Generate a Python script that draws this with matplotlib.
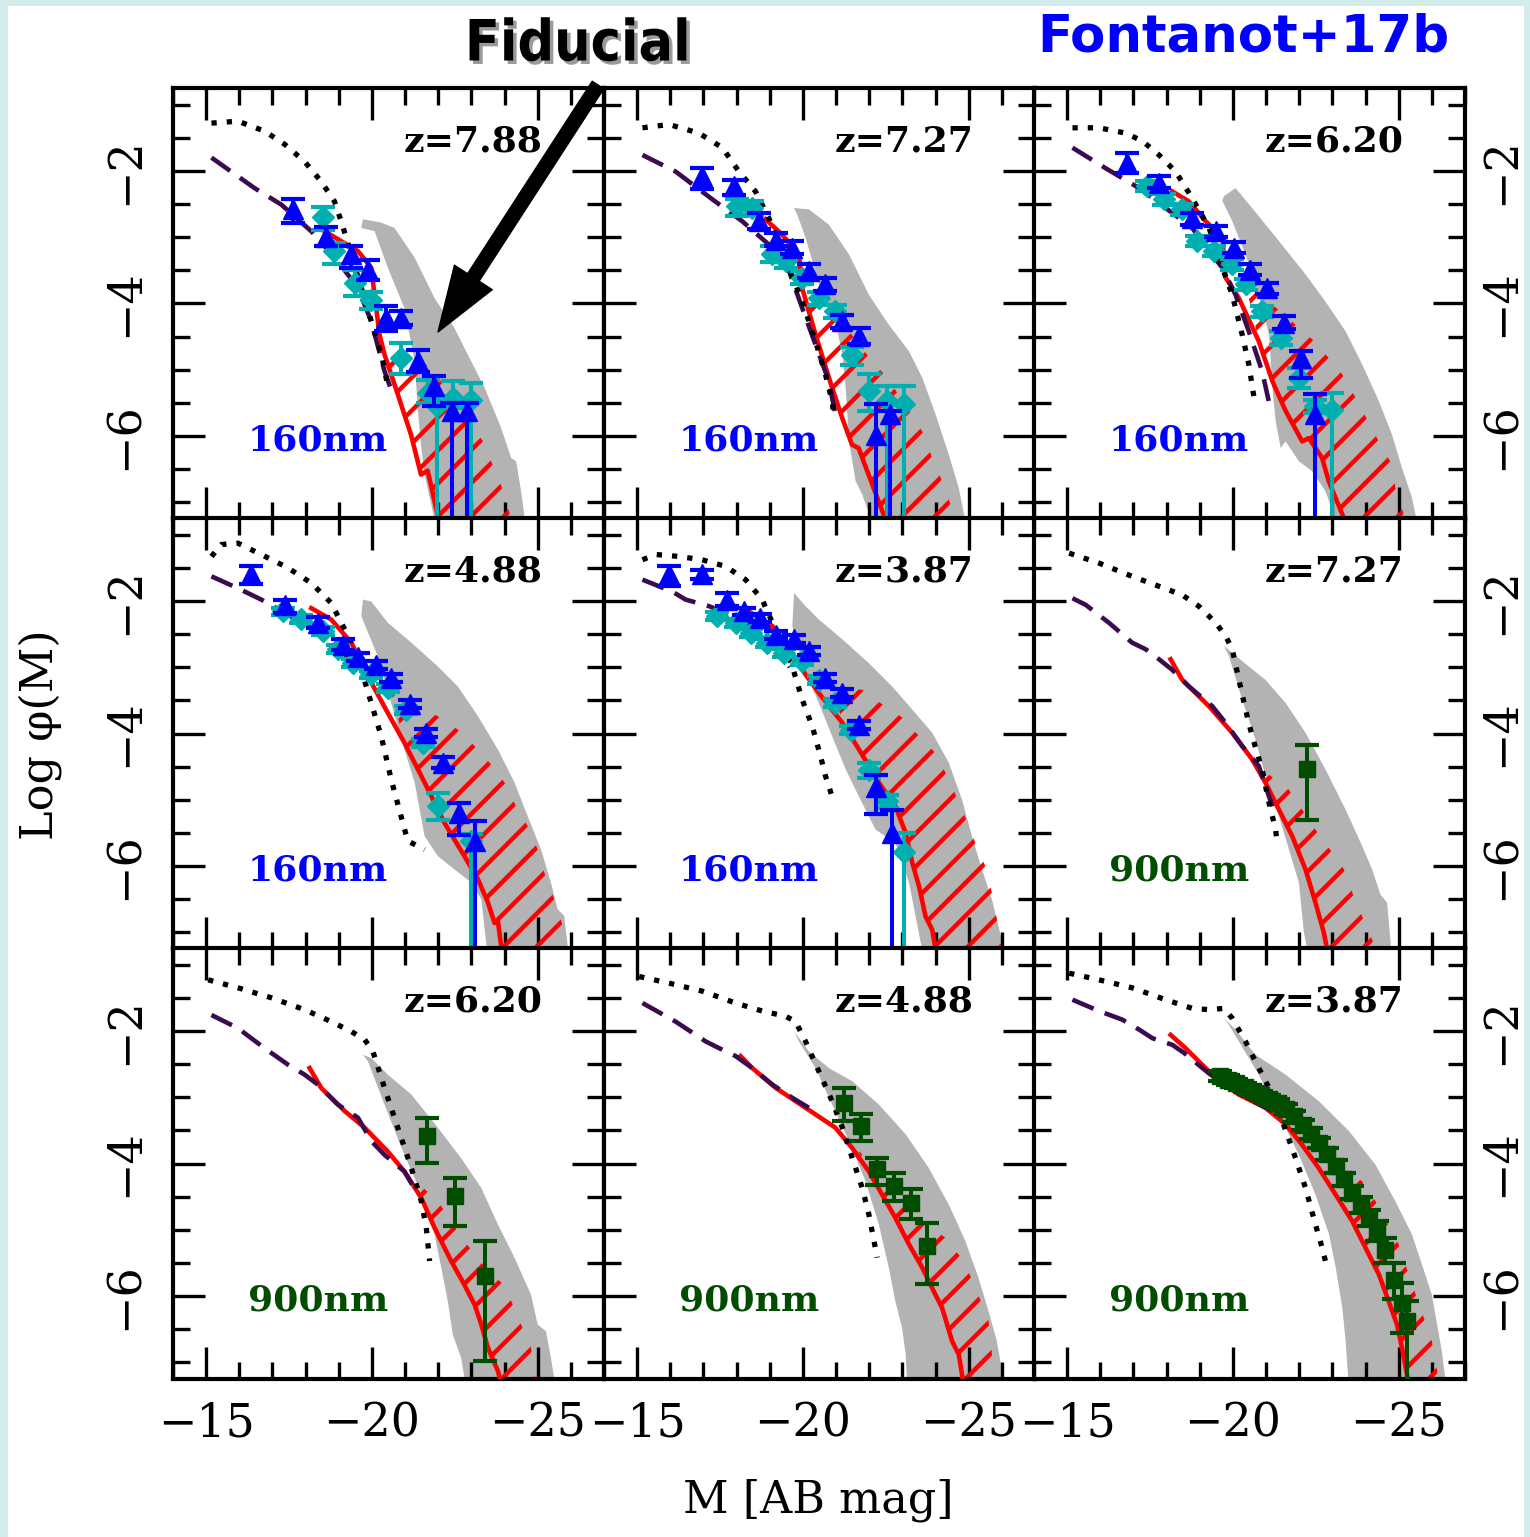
import matplotlib
matplotlib.use('Agg')
import matplotlib.pyplot as plt
import matplotlib.patheffects as pe
from matplotlib.patches import Polygon, Rectangle, FancyArrowPatch
from matplotlib.collections import LineCollection
from matplotlib.ticker import MultipleLocator
import numpy as np

plt.rcParams['font.family'] = 'DejaVu Serif'

# ---- luminosity functions: (M, log phi) ----
# z=7.88, 160nm
A_dot = [(-15.16,-1.28),(-15.96,-1.25),(-16.76,-1.40),(-17.37,-1.60),(-17.97,-1.86),(-18.47,-2.16),
         (-18.87,-2.46),(-19.1,-2.8),(-19.4,-3.3),(-19.7,-3.8),(-20.0,-4.3),(-20.3,-4.8),(-20.5,-5.3)]
A_dash = [(-15.16,-1.80),(-16.46,-2.26),(-17.27,-2.51),(-18.17,-2.91),(-18.97,-3.36),(-19.58,-3.77),
          (-19.98,-4.27),(-20.38,-5.02),(-20.63,-5.37)]
A_red = [(-18.57,-2.91),(-19.58,-3.21),(-19.98,-3.46),(-20.08,-3.87),(-20.23,-4.47),(-20.38,-4.77),
         (-20.78,-5.37),(-21.18,-5.98),(-21.48,-6.58),(-21.68,-6.52),(-21.98,-7.18),(-22.1,-7.4)]
A_hatch = [(-20.4,-4.7),(-21.64,-4.92),(-22.3,-5.3),(-22.9,-5.75),(-23.35,-6.08),(-23.9,-6.75),
           (-24.15,-7.16),(-24.3,-7.4)]
A_band_r = [(-19.73,-2.73),(-20.28,-2.78),(-20.68,-2.86),(-21.29,-3.31),(-21.89,-3.92),(-22.49,-4.37),
            (-22.89,-4.77),(-23.4,-5.27),(-23.9,-5.88),(-24.2,-6.33),(-24.35,-6.38),(-24.5,-6.83),(-24.65,-7.4)]
A_band_l = [(-19.68,-2.86),(-20.08,-2.91),(-20.48,-3.46),(-20.98,-4.07),(-21.29,-4.87),(-21.38,-5.57),
            (-21.49,-6.18),(-21.59,-6.58),(-21.95,-7.4)]
A_blue = [(-17.62,-2.58,.15,.21),(-18.62,-2.99,.15,.15),(-19.37,-3.26,.13,.2),(-19.88,-3.49,.15,.15),
          (-20.43,-4.22,.18,.2),(-20.88,-4.22,.1,.1),(-21.38,-4.87,.17,.17),(-21.88,-5.25,.15,.3),
          (-22.43,-5.62,.12,2.0),(-22.88,-5.62,.12,2.0)]
A_cyan = [(-18.52,-2.69,.15,.2),(-18.87,-3.21,.12,.2),(-19.48,-3.69,.2,.2),(-19.98,-3.94,.12,.15),
          (-20.88,-4.82,.22,.25),(-21.7,-5.35,.2,.15),(-21.95,-5.55,.15,2.0),(-22.45,-5.42,.25,.15),
          (-23.0,-5.45,.25,2.0)]

# z=7.27, 160nm
B_dot = [(-15.16,-1.35),(-15.96,-1.30),(-16.86,-1.43),(-17.57,-1.65),(-18.07,-2.01),(-18.57,-2.31),
         (-18.97,-2.71),(-19.58,-3.46),(-19.98,-3.97),(-20.38,-4.57),(-20.68,-5.07),(-20.88,-5.47),(-20.93,-5.67)]
B_dash = [(-15.16,-1.76),(-16.16,-2.01),(-17.27,-2.43),(-18.17,-2.76),(-18.97,-3.11),(-19.58,-3.51),
          (-19.98,-4.07),(-20.38,-4.62),(-20.78,-5.17),(-20.98,-5.67)]
B_red = [(-18.87,-2.73),(-19.37,-2.96),(-19.88,-3.26),(-19.98,-3.77),(-20.38,-4.47),(-20.88,-5.27),
         (-21.18,-5.72),(-21.48,-6.13),(-21.68,-6.18),(-21.98,-6.58),(-22.28,-6.98),(-22.6,-7.4)]
B_hatch = [(-19.98,-3.77),(-20.9,-4.1),(-21.9,-4.75),(-22.5,-5.1),(-23.2,-5.6),(-23.6,-5.93),
           (-23.9,-6.33),(-24.2,-6.68),(-24.45,-7.03),(-24.7,-7.4)]
B_band_r = [(-19.73,-2.56),(-20.18,-2.58),(-20.78,-2.81),(-21.39,-3.26),(-21.99,-3.87),(-22.59,-4.32),
            (-23.2,-4.72),(-23.6,-5.12),(-24.0,-5.67),(-24.4,-6.28),(-24.7,-6.78),(-24.95,-7.4)]
B_band_l = [(-19.83,-2.66),(-20.08,-3.01),(-20.58,-3.87),(-20.98,-4.27),(-21.19,-4.77),(-21.29,-5.27),
            (-21.39,-6.08),(-21.59,-6.68),(-21.79,-6.88),(-22.15,-7.4)]
B_blue = [(-16.96,-2.08,.12,.2),(-17.92,-2.23,.1,.13),(-18.67,-2.76,.12,.12),(-19.18,-3.04,.1,.1),
          (-19.68,-3.16,.1,.1),(-20.18,-3.51,.1,.1),(-20.68,-3.71,.1,.1),(-21.18,-4.27,.1,.1),
          (-21.69,-4.49,.12,.12),(-22.19,-5.98,.46,2.0),(-22.64,-5.67,.05,2.0)]
B_cyan = [(-18.02,-2.53,.1,.15),(-18.47,-2.56,.1,.1),(-19.08,-3.26,.12,.12),(-19.48,-3.36,.1,.1),
          (-19.98,-3.61,.1,.1),(-20.48,-3.92,.1,.1),(-20.98,-4.12,.1,.1),(-21.49,-4.77,.12,.15),
          (-21.98,-5.32,.25,.3),(-22.54,-5.47,.22,2.0),(-23.05,-5.52,.27,2.0)]

# z=6.20, 160nm
C_dot = [(-15.16,-1.35),(-15.96,-1.35),(-16.76,-1.43),(-17.27,-1.55),(-17.77,-1.76),(-18.27,-2.01),
         (-18.77,-2.41),(-19.28,-2.86),(-19.68,-3.46),(-19.98,-3.87),(-20.28,-4.47),(-20.48,-4.92),(-20.63,-5.40)]
C_dash = [(-15.16,-1.65),(-16.16,-1.96),(-17.17,-2.26),(-17.97,-2.56),(-18.77,-2.86),(-19.28,-3.21),
          (-19.68,-3.46),(-20.08,-3.87),(-20.48,-4.42),(-20.88,-5.02),(-21.08,-5.47)]
C_red = [(-18.17,-2.31),(-18.67,-2.46),(-19.18,-2.76),(-19.68,-3.01),(-19.78,-3.61),(-20.18,-3.92),
         (-20.78,-4.57),(-21.19,-5.17),(-21.59,-5.62),(-22.09,-6.08),(-22.29,-6.03),(-22.69,-6.33),
         (-22.89,-6.68),(-23.3,-7.18),(-23.45,-7.4)]
C_hatch = [(-20.4,-3.75),(-21.4,-4.1),(-21.89,-4.32),(-22.39,-4.54),(-22.89,-4.82),(-23.3,-5.07),
           (-23.7,-5.42),(-24.4,-6.08),(-24.8,-6.43),(-24.9,-6.78),(-25.15,-7.18),(-25.25,-7.4)]
C_band_r = [(-19.73,-2.38),(-20.08,-2.26),(-20.58,-2.56),(-21.39,-3.06),(-22.19,-3.56),(-22.79,-3.97),
            (-23.4,-4.42),(-23.9,-4.92),(-24.4,-5.47),(-24.8,-5.98),(-25.1,-6.48),(-25.4,-6.93),(-25.6,-7.4)]
C_band_l = [(-19.68,-2.45),(-19.98,-2.76),(-20.38,-3.26),(-20.78,-3.87),(-21.09,-4.47),(-21.19,-5.27),
            (-21.29,-5.78),(-21.44,-6.18),(-21.59,-6.08),(-21.99,-6.38),(-22.39,-6.53),(-22.79,-6.83),(-23.2,-7.4)]
C_blue = [(-16.81,-1.88,.15,.15),(-17.77,-2.18,.1,.08),(-18.77,-2.71,.08,.1),(-19.48,-2.91,.08,.08),
          (-20.03,-3.16,.08,.08),(-20.53,-3.49,.08,.08),(-21.03,-3.77,.08,.08),(-21.54,-4.29,.1,.1),
          (-22.04,-4.82,.1,.3),(-22.49,-5.67,.3,2.0)]
C_cyan = [(-17.42,-2.23,.08,.08),(-17.92,-2.43,.08,.08),(-18.47,-2.58,.08,.08),(-18.92,-3.06,.08,.08),
          (-19.43,-3.21,.08,.08),(-19.98,-3.41,.08,.08),(-20.38,-3.71,.08,.08),(-20.88,-4.12,.08,.08),
          (-21.44,-4.52,.1,.1),(-21.99,-5.12,.15,.15),(-22.49,-5.55,.1,.1),(-22.99,-5.6,.25,2.0)]

# z=4.88, 160nm
D_dot = [(-15.16,-1.33),(-15.46,-1.15),(-15.96,-1.13),(-16.66,-1.30),(-17.46,-1.50),(-18.17,-1.73),
         (-18.77,-2.03),(-19.28,-2.53),(-19.68,-3.04),(-19.98,-3.54),(-20.28,-4.04),(-20.58,-4.69),
         (-20.88,-5.25),(-21.08,-5.62),(-21.59,-5.75)]
D_dash = [(-15.16,-1.63),(-15.96,-1.81),(-16.66,-1.98),(-17.37,-2.18),(-18.27,-2.43),(-18.97,-2.68),(-19.58,-3.04)]
D_red = [(-18.17,-2.11),(-18.77,-2.28),(-19.38,-2.63),(-19.88,-3.14),(-20.48,-3.69),(-20.98,-4.14),
         (-21.59,-4.74),(-22.19,-5.35),(-22.79,-5.85),(-23.2,-6.20),(-23.5,-6.55),(-23.7,-6.86),
         (-23.8,-6.83),(-23.9,-7.21),(-23.95,-7.4)]
D_hatch = [(-20.6,-3.4),(-21.99,-3.74),(-22.59,-3.94),(-23.1,-4.19),(-23.6,-4.47),(-24.0,-4.74),
           (-24.3,-5.05),(-24.7,-5.40),(-25.0,-5.75),(-25.2,-6.10),(-25.5,-6.50),(-25.76,-6.91),(-25.9,-7.4)]
D_band_r = [(-19.73,-1.98),(-19.98,-2.01),(-20.48,-2.33),(-21.19,-2.63),(-21.99,-2.99),(-22.59,-3.29),
            (-23.2,-3.74),(-23.8,-4.24),(-24.3,-4.74),(-24.7,-5.25),(-25.1,-5.75),(-25.4,-6.25),
            (-25.6,-6.65),(-25.8,-6.75),(-25.95,-7.4)]
D_band_l = [(-19.68,-2.23),(-20.18,-2.84),(-20.58,-3.54),(-20.98,-4.24),(-21.29,-4.74),(-21.59,-5.55),
            (-21.99,-5.85),(-22.49,-6.05),(-23.0,-6.25),(-23.3,-6.50),(-23.5,-7.4)]
D_blue = [(-16.36,-1.60,.12,.15),(-17.37,-2.06,.08,.12),(-18.37,-2.33,.08,.08),(-19.13,-2.66,.08,.08),
          (-19.58,-2.84,.06,.06),(-20.13,-2.96,.06,.06),(-20.58,-3.16,.06,.06),(-21.14,-3.56,.06,.06),
          (-21.64,-3.99,.06,.06),(-22.14,-4.44,.08,.08),(-22.64,-5.20,.15,.33),(-23.1,-5.62,.3,2.0)]
D_cyan = [(-17.32,-2.16,.06,.06),(-17.87,-2.28,.06,.06),(-18.52,-2.46,.06,.06),(-18.97,-2.73,.06,.06),
          (-19.43,-2.94,.06,.06),(-19.98,-3.11,.06,.06),(-20.48,-3.31,.06,.06),(-21.04,-3.64,.06,.06),
          (-21.54,-4.14,.06,.06),(-21.99,-5.10,.2,.2),(-22.99,-5.62,.1,2.0)]

# z=3.87, 160nm
E_dot = [(-15.16,-1.38),(-15.56,-1.30),(-16.26,-1.33),(-16.96,-1.38),(-17.67,-1.48),(-18.27,-1.68),
         (-18.77,-1.98),(-19.08,-2.33),(-19.4,-2.65),(-19.68,-2.99),(-19.98,-3.49),(-20.28,-3.89),
         (-20.53,-4.34),(-20.68,-4.64),(-20.88,-4.95)]
E_dash = [(-15.16,-1.68),(-16.06,-1.86),(-16.46,-1.98),(-17.17,-2.08),(-18.2,-2.3),(-19.0,-2.6),(-19.6,-3.0)]
E_red = [(-18.37,-2.16),(-19.08,-2.38),(-19.58,-2.73),(-19.98,-3.04),(-20.48,-3.39),(-21.19,-3.84),
         (-21.69,-4.24),(-22.29,-4.74),(-22.79,-5.10),(-23.1,-5.50),(-23.3,-5.95),(-23.5,-6.30),
         (-23.7,-6.76),(-23.9,-6.96),(-24.05,-7.4)]
E_hatch = [(-20.9,-3.3),(-21.79,-3.34),(-22.39,-3.56),(-23.0,-3.76),(-23.5,-4.04),(-23.95,-4.27),
           (-24.3,-4.59),(-24.6,-4.92),(-24.9,-5.27),(-25.2,-5.65),(-25.5,-6.00),(-25.7,-6.40),
           (-25.86,-6.83),(-26.05,-7.4)]
E_band_r = [(-19.73,-1.88),(-20.08,-2.08),(-20.48,-2.28),(-21.19,-2.58),(-21.99,-2.94),(-22.69,-3.29),
            (-23.3,-3.64),(-23.9,-3.99),(-24.4,-4.44),(-24.8,-5.0),(-25.1,-5.55),(-25.4,-6.05),
            (-25.7,-6.50),(-25.9,-6.91),(-26.15,-7.4)]
E_band_l = [(-19.68,-2.38),(-19.98,-2.94),(-20.48,-3.54),(-20.88,-4.04),(-21.29,-4.54),(-21.59,-4.85),
            (-21.89,-5.15),(-22.19,-5.45),(-22.79,-5.65),(-23.2,-6.25),(-23.4,-6.76),(-23.65,-7.4)]
E_blue = [(-15.96,-1.60,.12,.18),(-16.96,-1.60,.07,.07),(-17.72,-1.98,.1,.1),(-18.22,-2.16,.06,.06),
          (-18.72,-2.26,.06,.06),(-19.18,-2.51,.06,.06),(-19.73,-2.58,.06,.06),(-20.18,-2.76,.06,.06),
          (-20.68,-3.16,.06,.06),(-21.19,-3.39,.06,.06),(-21.69,-3.87,.06,.06),(-22.19,-4.80,.18,.42),
          (-22.69,-5.50,.35,2.0)]
E_cyan = [(-17.42,-2.23,.06,.06),(-17.97,-2.33,.06,.06),(-18.42,-2.48,.06,.06),(-18.92,-2.63,.06,.06),
          (-19.43,-2.79,.06,.06),(-19.98,-2.91,.06,.06),(-20.48,-3.19,.06,.06),(-20.98,-3.54,.06,.06),
          (-21.44,-3.94,.06,.06),(-21.99,-4.55,.1,.12),(-22.54,-5.02,.1,.1),(-23.05,-5.78,.28,2.0)]

# z=7.27, 900nm
F_dot = [(-15.06,-1.28),(-15.96,-1.43),(-16.96,-1.63),(-17.77,-1.78),(-18.47,-1.91),(-18.97,-2.08),
         (-19.48,-2.33),(-19.78,-2.53),(-19.98,-2.73),(-20.38,-3.64),(-20.58,-4.04),(-20.88,-4.54),
         (-21.09,-5.05),(-21.29,-5.45),(-21.34,-5.70)]
F_dash = [(-15.16,-1.96),(-15.56,-2.06),(-16.26,-2.33),(-16.96,-2.63),(-17.37,-2.73),(-17.77,-2.88),
          (-18.17,-3.04),(-18.67,-3.29),(-19.38,-3.59),(-19.78,-3.84),(-20.28,-4.19),(-20.78,-4.49),(-21.19,-5.10)]
F_red = [(-18.12,-2.88),(-18.47,-3.19),(-19.28,-3.59),(-19.98,-3.99),(-20.58,-4.39),(-20.98,-4.74),
         (-21.39,-5.15),(-21.79,-5.55),(-22.19,-6.05),(-22.49,-6.55),(-22.74,-7.0),(-22.9,-7.4)]
F_hatch = [(-20.9,-4.55),(-21.69,-4.85),(-22.09,-5.15),(-22.49,-5.45),(-23.0,-5.8),(-23.35,-6.05),
           (-23.6,-6.40),(-23.9,-6.76),(-24.2,-7.11),(-24.45,-7.4)]
F_band_r = [(-19.73,-2.68),(-20.48,-2.99),(-20.98,-3.19),(-21.59,-3.54),(-22.19,-3.99),(-22.79,-4.54),
            (-23.4,-5.15),(-23.9,-5.70),(-24.2,-6.05),(-24.45,-6.43),(-24.65,-6.55),(-24.8,-7.4)]
F_band_l = [(-19.88,-2.83),(-20.28,-3.49),(-20.68,-4.09),(-20.98,-4.64),(-21.39,-5.25),(-21.69,-5.75),
            (-21.99,-6.25),(-22.14,-7.0),(-22.3,-7.4)]
F_green = [(-22.24,-4.54,.37,.76)]

# z=6.20, 900nm
G_dot = [(-15.06,-1.23),(-15.96,-1.35),(-16.96,-1.50),(-17.97,-1.68),(-18.77,-1.86),(-19.38,-2.01),
         (-19.78,-2.13),(-20.03,-2.31),(-20.38,-2.86),(-20.78,-3.46),(-21.19,-4.07),(-21.49,-4.57),
         (-21.64,-4.97),(-21.74,-5.47)]
G_dash = [(-15.16,-1.76),(-15.96,-1.96),(-16.76,-2.26),(-17.47,-2.51),(-17.97,-2.66),(-18.37,-2.81),
          (-18.97,-3.11),(-19.58,-3.31),(-19.98,-3.66),(-20.38,-3.87),(-20.98,-4.12),(-21.39,-4.47)]
G_red = [(-18.12,-2.56),(-18.47,-2.86),(-19.18,-3.21),(-19.78,-3.46),(-20.48,-3.82),(-20.98,-4.12),
         (-21.49,-4.52),(-21.89,-4.97),(-22.39,-5.47),(-22.79,-5.83),(-23.1,-6.13),(-23.3,-6.43),
         (-23.5,-6.78),(-23.8,-7.13),(-23.95,-7.4)]
G_hatch = [(-21.4,-4.3),(-21.99,-4.57),(-22.79,-5.17),(-23.6,-5.68),(-24.0,-5.83),(-24.5,-6.43),
           (-24.8,-6.78),(-24.9,-7.18),(-24.95,-7.4)]
G_band_r = [(-19.73,-2.36),(-19.98,-2.41),(-20.48,-2.66),(-21.19,-2.96),(-21.99,-3.46),(-22.69,-3.92),
            (-23.3,-4.37),(-23.8,-4.92),(-24.3,-5.42),(-24.8,-5.98),(-25.0,-6.43),(-25.25,-6.53),
            (-25.4,-6.93),(-25.55,-7.4)]
G_band_l = [(-19.88,-2.46),(-20.38,-3.11),(-20.98,-3.87),(-21.59,-4.57),(-21.89,-5.07),(-22.09,-5.57),
            (-22.29,-6.08),(-22.44,-6.58),(-22.69,-6.93),(-22.85,-7.4)]
G_green = [(-21.67,-3.59,.28,.40),(-22.51,-4.49,.27,.46),(-23.4,-5.70,.53,1.28)]

# z=4.88, 900nm
H_dot = [(-15.06,-1.18),(-15.96,-1.28),(-16.96,-1.40),(-17.97,-1.58),(-18.77,-1.70),(-19.48,-1.78),
         (-19.78,-1.86),(-20.08,-2.16),(-20.48,-2.61),(-20.88,-3.06),(-21.19,-3.46),(-21.49,-3.92),
         (-21.79,-4.37),(-21.99,-4.77),(-22.24,-5.42)]
H_dash = [(-15.16,-1.58),(-16.16,-1.86),(-17.07,-2.16),(-17.47,-2.26),(-17.97,-2.38),(-18.47,-2.56),
          (-19.08,-2.81),(-19.68,-3.01),(-20.18,-3.16)]
H_red = [(-18.12,-2.38),(-18.47,-2.56),(-19.18,-2.86),(-19.78,-3.06),(-20.38,-3.26),(-20.98,-3.46),
         (-21.49,-3.77),(-21.99,-4.12),(-22.39,-4.47),(-22.79,-4.82),(-23.2,-5.22),(-23.6,-5.57),
         (-23.9,-5.88),(-24.2,-6.18),(-24.5,-6.68),(-24.7,-6.88),(-24.8,-7.18),(-24.85,-7.4)]
H_hatch = [(-21.6,-3.75),(-22.99,-4.62),(-23.6,-4.87),(-24.3,-5.12),(-24.85,-5.47),(-25.25,-5.93),
           (-25.6,-6.38),(-25.7,-6.88),(-25.7,-7.4)]
H_band_r = [(-19.73,-2.01),(-20.18,-2.31),(-20.78,-2.56),(-21.49,-2.76),(-22.29,-3.11),(-23.1,-3.56),
            (-23.8,-4.07),(-24.4,-4.62),(-24.9,-5.17),(-25.3,-5.73),(-25.6,-6.23),(-25.85,-6.68),(-26.1,-7.4)]
H_band_l = [(-19.88,-2.16),(-20.38,-2.56),(-20.88,-3.11),(-21.39,-3.66),(-21.89,-4.27),(-22.29,-4.92),
            (-22.59,-5.57),(-22.79,-6.08),(-22.99,-6.48),(-23.1,-6.88),(-23.15,-7.4)]
H_green = [(-21.24,-3.09,.23,.27),(-21.74,-3.44,.18,.22),(-22.24,-4.09,.17,.23),(-22.74,-4.34,.2,.22),
           (-23.25,-4.59,.2,.25),(-23.75,-5.25,.36,.57)]

# z=3.87, 900nm
I_dot = [(-15.06,-1.13),(-15.96,-1.23),(-16.96,-1.35),(-17.97,-1.53),(-18.77,-1.66),(-19.28,-1.68),
         (-19.73,-1.66),(-19.98,-1.81),(-20.38,-2.16),(-20.78,-2.56),(-21.09,-2.86),(-21.49,-3.36),
         (-21.89,-3.92),(-22.19,-4.37),(-22.49,-4.92),(-22.69,-5.27),(-22.79,-5.47)]
I_dash = [(-15.16,-1.53),(-15.96,-1.70),(-16.66,-1.83),(-17.17,-1.98),(-17.57,-2.11),(-18.17,-2.21),
          (-18.52,-2.33),(-19.3,-2.65),(-20.2,-2.95),(-21.19,-3.21)]
I_red = [(-18.12,-2.06),(-18.57,-2.26),(-18.97,-2.46),(-19.48,-2.71),(-20.18,-2.96),(-20.98,-3.16),
         (-21.59,-3.41),(-22.09,-3.72),(-22.59,-4.07),(-23.1,-4.47),(-23.6,-4.87),(-24.0,-5.27),
         (-24.4,-5.67),(-24.7,-6.08),(-24.95,-6.43),(-25.1,-6.78),(-25.25,-7.18),(-25.3,-7.4)]
I_hatch = [(-23.4,-4.1),(-23.9,-4.27),(-24.3,-4.57),(-25.0,-5.22),(-25.3,-5.67),(-25.76,-6.33),
           (-26.0,-6.68),(-26.16,-7.13),(-26.2,-7.4)]
I_band_r = [(-19.73,-1.81),(-20.08,-1.98),(-20.68,-2.36),(-21.59,-2.66),(-22.59,-3.06),(-23.5,-3.51),
            (-24.3,-4.02),(-24.9,-4.57),(-25.4,-5.07),(-25.7,-5.52),(-26.0,-5.98),(-26.16,-6.43),
            (-26.3,-6.83),(-26.45,-7.4)]
I_band_l = [(-19.88,-1.91),(-20.18,-2.16),(-20.78,-2.66),(-21.39,-3.26),(-21.99,-3.87),(-22.49,-4.47),
            (-22.9,-5.07),(-23.1,-5.57),(-23.3,-6.18),(-23.4,-6.68),(-23.5,-7.4)]
I_green = [(-19.6,-2.68,.07,.07),(-19.85,-2.74,.07,.07),(-20.1,-2.79,.07,.07),(-20.35,-2.85,.07,.07),
           (-20.6,-2.91,.07,.07),(-20.85,-2.97,.07,.07),(-21.1,-3.03,.07,.07),(-21.35,-3.09,.07,.07),
           (-21.6,-3.18,.07,.07),(-21.85,-3.29,.08,.08),(-22.1,-3.42,.08,.08),(-22.35,-3.55,.08,.08),
           (-22.6,-3.69,.08,.08),(-22.85,-3.85,.09,.09),(-23.1,-4.04,.1,.1),(-23.35,-4.24,.1,.1),
           (-23.6,-4.44,.1,.1),(-23.85,-4.62,.12,.12),(-24.1,-4.82,.12,.12),(-24.35,-5.02,.15,.15),
           (-24.6,-5.3,.18,.2),(-24.85,-5.75,.25,.3),(-25.1,-6.1,.3,.45),(-25.25,-6.38,.3,1.0)]

z_labels = ['7.88', '7.27', '6.20', '4.88', '3.87', '7.27', '6.20', '4.88', '3.87']
band_labels = ['160nm'] * 5 + ['900nm'] * 4

panels = [
    (A_dot, A_dash, A_red, A_hatch, A_band_r, A_band_l, A_blue, A_cyan, []),
    (B_dot, B_dash, B_red, B_hatch, B_band_r, B_band_l, B_blue, B_cyan, []),
    (C_dot, C_dash, C_red, C_hatch, C_band_r, C_band_l, C_blue, C_cyan, []),
    (D_dot, D_dash, D_red, D_hatch, D_band_r, D_band_l, D_blue, D_cyan, []),
    (E_dot, E_dash, E_red, E_hatch, E_band_r, E_band_l, E_blue, E_cyan, []),
    (F_dot, F_dash, F_red, F_hatch, F_band_r, F_band_l, [], [], F_green),
    (G_dot, G_dash, G_red, G_hatch, G_band_r, G_band_l, [], [], G_green),
    (H_dot, H_dash, H_red, H_hatch, H_band_r, H_band_l, [], [], H_green),
    (I_dot, I_dash, I_red, I_hatch, I_band_r, I_band_l, [], [], I_green),
]

BLUE = '#0000ff'
CYAN = '#00b0b0'
GREEN = '#004d00'
RED = '#ff0000'
PURPLE = '#3c0a4e'
GRAY = '#b3b3b3'


def points(ax, pts, fmt, color, ms, z):
    if not pts:
        return
    m, phi, up, dn = map(np.array, zip(*pts))
    ax.errorbar(m, phi, yerr=[dn, up], fmt=fmt, color=color, ms=ms, mec=color,
                elinewidth=2.9, capsize=8.5, capthick=3.0, zorder=z)


def draw_panel(ax, dot, dash, red, hatch, band_r, band_l, blue, cyan, green):
    ax.add_patch(Polygon(band_r + band_l[::-1], closed=True, facecolor=GRAY,
                         edgecolor='none', zorder=1))
    # hatched region between the model line and its upper envelope
    lower = [p for p in red if p[0] <= hatch[0][0]]
    hpoly = Polygon(lower + hatch[::-1], closed=True, facecolor='none',
                    edgecolor='none', transform=ax.transData)
    ax.add_patch(hpoly)
    segs = [[(c, 0), (c + 1, 1)] for c in np.arange(-1.0, 1.0, 0.0766)]
    lc = LineCollection(segs, colors=RED, linewidths=3.2, transform=ax.transAxes, zorder=2)
    ax.add_collection(lc, autolim=False)
    lc.set_clip_path(hpoly)

    ax.plot(*zip(*red), color=RED, lw=3.3, zorder=3)
    ax.plot(*zip(*dash), color=PURPLE, lw=3.3, dashes=(5, 2.6), zorder=3)
    ax.plot(*zip(*dot), color='black', lw=3.8, dashes=(1, 1.9), zorder=3)

    points(ax, cyan, 'D', CYAN, 11, 4)
    points(ax, blue, '^', BLUE, 14, 5)
    points(ax, green, 's', GREEN, 12, 5)


fig = plt.figure(figsize=(15.3, 15.37), dpi=100)
fig.patch.set_facecolor('#d3ecec')
fig.add_artist(Rectangle((8 / 1530, 0), 1516 / 1530, 1531 / 1537, transform=fig.transFigure,
                         facecolor='white', edgecolor='none', zorder=-10))

W, H = 1530, 1537
lefts = [173, 604, 1034]
tops = [88, 518, 948]
size = 431

for k, data in enumerate(panels):
    r, c = divmod(k, 3)
    ax = fig.add_axes([lefts[c] / W, 1 - (tops[r] + size) / H, size / W, size / H])
    draw_panel(ax, *data)
    ax.set_xlim(-14, -27)
    ax.set_ylim(-7.25, -0.75)
    ax.xaxis.set_major_locator(MultipleLocator(5))
    ax.xaxis.set_minor_locator(MultipleLocator(1))
    ax.yaxis.set_major_locator(MultipleLocator(2))
    ax.yaxis.set_minor_locator(MultipleLocator(0.5))
    ax.tick_params(which='both', direction='in', top=True, right=True, width=2.4,
                   labelsize=33, labelbottom=(r == 2), labelleft=(c == 0), labelright=(c == 2))
    ax.tick_params(which='major', length=23)
    ax.tick_params(which='minor', length=12)
    ax.tick_params(axis='x', pad=16)
    ax.tick_params(axis='y', pad=18 if c == 0 else 10)
    for s in ax.spines.values():
        s.set_linewidth(3)
    for t in ax.get_yticklabels():
        t.set_rotation(90)
        t.set_va('center')

    ax.text(0.858, 0.875, 'z=' + z_labels[k], transform=ax.transAxes, ha='right', va='center',
            fontsize=26, fontweight='bold', zorder=6)
    ax.text(0.336, 0.183, band_labels[k], transform=ax.transAxes, ha='center', va='center',
            fontsize=26, fontweight='bold', color=BLUE if band_labels[k] == '160nm' else GREEN, zorder=6)

fig.text(0.026, 1 - 735 / H, 'Log φ(M)', rotation=90, ha='center', va='center', fontsize=32)
fig.text(818 / W, 1 - 1500 / H, 'M [AB mag]', ha='center', va='center', fontsize=32)

fig.text(578 / W, 1 - 45 / H, 'Fiducial', ha='center', va='center', fontsize=41,
         fontweight='bold', family='DejaVu Sans', fontstretch='condensed',
         path_effects=[pe.withSimplePatchShadow(offset=(2.5, -2.5), shadow_rgbFace='#9a9a9a', alpha=1)])
fig.text(1243 / W, 1 - 38 / H, 'Fontanot+17b', ha='center', va='center', fontsize=37,
         fontweight='bold', family='DejaVu Sans', color=BLUE)

arrow = FancyArrowPatch((598 / W, 1 - 85 / H), (438 / W, 1 - 332 / H), transform=fig.transFigure,
                        arrowstyle='simple,head_length=2.6,head_width=1.8,tail_width=0.55',
                        mutation_scale=18, color='black', shrinkA=0, shrinkB=0, zorder=10)
fig.add_artist(arrow)

fig.savefig('out.png', dpi=100, facecolor=fig.get_facecolor())
